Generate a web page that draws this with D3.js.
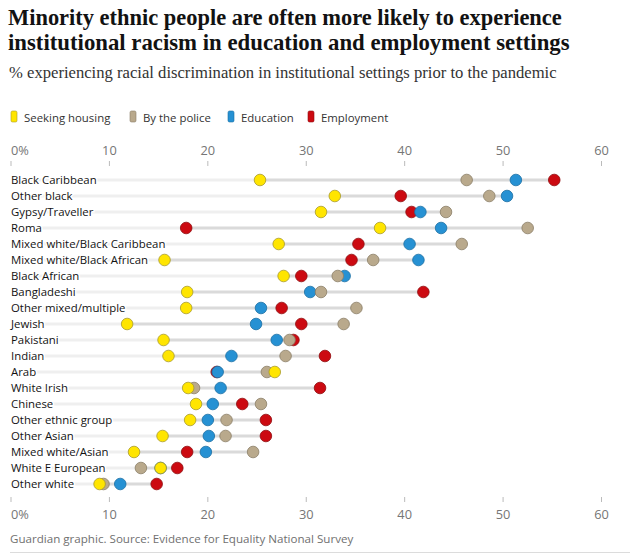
<!DOCTYPE html>
<html><head><meta charset="utf-8">
<script src="https://cdn.jsdelivr.net/npm/d3@7"></script>
<style>
body{margin:0;background:#fff;}
text{font-family:"Open Sans","Noto Sans",sans-serif;}
text.serif{font-family:"Liberation Serif","DejaVu Serif",serif;}
</style></head>
<body><svg id="c" width="632" height="555"></svg>
<script>
const categories = ["Black Caribbean","Other black","Gypsy/Traveller","Roma","Mixed white/Black Caribbean","Mixed white/Black African","Black African","Bangladeshi","Other mixed/multiple","Jewish","Pakistani","Indian","Arab","White Irish","Chinese","Other ethnic group","Other Asian","Mixed white/Asian","White E European","Other white"];
const seekingHousing = [25.3,32.9,31.5,37.5,27.2,15.6,27.7,17.9,17.8,11.8,15.5,16.0,26.8,18.0,18.8,18.2,15.4,12.5,15.2,9.0];
const byThePolice    = [46.3,48.6,44.2,52.5,45.8,36.8,33.2,31.5,35.1,33.8,28.3,27.9,26.0,18.6,25.4,21.9,21.8,24.6,13.2,9.4];
const education      = [51.3,50.4,41.6,43.7,40.5,41.4,33.9,30.4,25.4,24.9,27.0,22.4,21.0,21.3,20.5,20.0,20.1,19.8,15.2,11.1];
const employment     = [55.2,39.6,40.7,17.8,35.3,34.6,29.5,41.9,27.5,29.5,28.7,31.9,20.9,31.4,23.5,25.9,25.9,17.9,16.9,14.8];
const seriesNames = ["Seeking housing","By the police","Education","Employment"];
const seriesColors = ["#ffe500","#b9a98c","#2691d3","#cc0a11"];
const seriesStrokes = ["#a89a2a","#8a7d66","#1a6fa3","#8f0a0d"];
const tickValues = [0,10,20,30,40,50,60];

const svg = d3.select("#c");
const series = [seekingHousing, byThePolice, education, employment];

function fitText(sel, target){
  const w = sel.node().getComputedTextLength();
  const fs = parseFloat(sel.attr("font-size"));
  sel.attr("font-size", fs*target/w);
}
// title
const t1 = svg.append("text").attr("class","serif").attr("x",8).attr("y",25)
  .attr("font-weight","bold").attr("font-size",21).attr("fill","#121212")
  .text("Minority ethnic people are often more likely to experience");
fitText(t1, 554);
const t2 = svg.append("text").attr("class","serif").attr("x",8).attr("y",50)
  .attr("font-weight","bold").attr("font-size",21).attr("fill","#121212")
  .text("institutional racism in education and employment settings");
fitText(t2, 562);
const st = svg.append("text").attr("class","serif").attr("x",9).attr("y",78)
  .attr("font-size",15).attr("fill","#333")
  .text("% experiencing racial discrimination in institutional settings prior to the pandemic");
fitText(st, 548);

// legend
const legX = [14,133,231,311];
const leg = svg.append("g");
seriesNames.forEach((n,i)=>{
  leg.append("rect").attr("x",legX[i]-3).attr("y",111).attr("width",6).attr("height",11).attr("rx",1.5)
    .attr("fill",seriesColors[i]).attr("stroke",seriesStrokes[i]).attr("stroke-width",0.6);
  leg.append("text").attr("x",legX[i]+10).attr("y",121.5).attr("font-size",11.4).attr("fill","#333").text(n);
});

const x = d3.scaleLinear().domain([0,60]).range([11,601.5]);
const y = d3.scalePoint().domain(categories).range([180,484]);

// axes
function axis(g, tickY1, tickY2, labY){
  tickValues.forEach(v=>{
    g.append("line").attr("x1",x(v)).attr("x2",x(v)).attr("y1",tickY1).attr("y2",tickY2)
      .attr("stroke","#bbb").attr("stroke-width",1);
    g.append("text").attr("x",x(v)).attr("y",labY)
      .attr("text-anchor",v===0?"start":"middle").attr("font-size",12.8).attr("fill","#767676")
      .text(v===0?"0%":v);
  });
}
axis(svg.append("g"),161,166,155);
axis(svg.append("g"),497,502,519);

// rows
const rows = svg.append("g");
categories.forEach((c,i)=>{
  const vals = series.map(s=>s[i]);
  const mn = d3.min(vals), mx = d3.max(vals);
  const yy = y(c);
  rows.append("line").attr("x1",x(0)).attr("x2",x(mn)).attr("y1",yy).attr("y2",yy)
    .attr("stroke","#efefef").attr("stroke-width",3);
  rows.append("line").attr("x1",x(mn)).attr("x2",x(mx)).attr("y1",yy).attr("y2",yy)
    .attr("stroke","#dadada").attr("stroke-width",3);
  rows.append("text").attr("x",11).attr("y",yy+4).attr("font-size",11.4).attr("fill","#121212")
    .attr("stroke","#fff").attr("stroke-width",3).attr("paint-order","stroke").text(c);
});
// dots: draw employment, education, police, housing (last on top)
[3,2,1,0].forEach(si=>{
  svg.append("g").selectAll("circle").data(categories).join("circle")
    .attr("cx",(d,i)=>x(series[si][i])).attr("cy",d=>y(d)).attr("r",5.8)
    .attr("fill",seriesColors[si]).attr("stroke",seriesStrokes[si]).attr("stroke-width",0.8);
});

svg.append("text").attr("x",10).attr("y",543).attr("font-size",11.6).attr("fill","#707070")
  .text("Guardian graphic. Source: Evidence for Equality National Survey");
svg.append("line").attr("x1",10).attr("x2",630).attr("y1",552.5).attr("y2",552.5).attr("stroke","#dcdcdc");
</script></body></html>
